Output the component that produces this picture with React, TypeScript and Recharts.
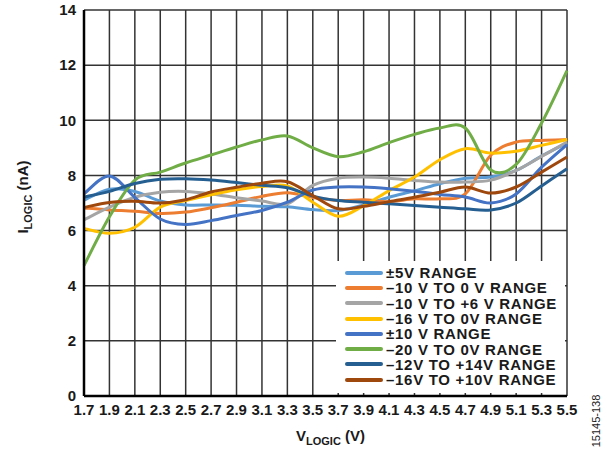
import { LineChart, Line, XAxis, YAxis, CartesianGrid, Legend } from 'recharts'

const FONT = '"Liberation Sans", Arial, sans-serif'

const vLogic = ['1.7', '1.9', '2.1', '2.3', '2.5', '2.7', '2.9', '3.1', '3.3', '3.5',
    '3.7', '3.9', '4.1', '4.3', '4.5', '4.7', '4.9', '5.1', '5.3', '5.5']
const yTicks = [0, 2, 4, 6, 8, 10, 12, 14]

// I_LOGIC (nA) per range, read at each V_LOGIC step
const range5V = [7.1, 7.5, 7.42, 7.07, 6.93, 6.93, 6.92, 6.88, 6.86, 6.76, 6.73, 6.93, 7.21, 7.44, 7.7, 7.9, 7.94, 8.18, 8.7, 9.18]
const rangeM10to0 = [6.82, 6.75, 6.7, 6.62, 6.67, 6.83, 7.03, 7.24, 7.37, 7.2, 7.09, 7.12, 7.05, 7.15, 7.15, 7.33, 8.73, 9.21, 9.27, 9.3]
const rangeM10toP6 = [6.39, 6.85, 7.21, 7.39, 7.42, 7.33, 7.19, 7.07, 6.97, 7.64, 7.9, 7.94, 7.9, 7.82, 7.76, 7.76, 7.83, 8.18, 8.69, 9.21]
const rangeM16to0 = [6.08, 5.9, 6.12, 6.85, 7.09, 7.3, 7.48, 7.6, 7.62, 7.03, 6.52, 6.9, 7.45, 7.94, 8.57, 8.97, 8.81, 8.88, 9.09, 9.3]
const range10V = [7.33, 7.98, 7.2, 6.42, 6.22, 6.36, 6.55, 6.73, 7.03, 7.47, 7.58, 7.58, 7.52, 7.43, 7.31, 7.22, 7.0, 7.33, 8.3, 9.12]
const rangeM20to0 = [4.73, 6.5, 7.83, 8.12, 8.45, 8.74, 9.03, 9.29, 9.43, 9.0, 8.68, 8.86, 9.19, 9.49, 9.72, 9.72, 8.2, 8.4, 9.9, 11.8]
const rangeM12toP14 = [7.22, 7.42, 7.71, 7.86, 7.88, 7.83, 7.74, 7.64, 7.55, 7.25, 7.09, 7.03, 6.97, 6.91, 6.85, 6.79, 6.75, 7.0, 7.62, 8.24]
const rangeM16toP10 = [6.84, 7.02, 7.06, 7.0, 7.12, 7.4, 7.57, 7.72, 7.77, 7.27, 6.79, 6.88, 7.05, 7.21, 7.39, 7.58, 7.36, 7.58, 8.12, 8.67]

const seriesList = [
    { key: 'r5', name: '±5V RANGE', color: '#5B9BD5', values: range5V },
    { key: 'm10to0', name: '–10 V TO 0 V RANGE', color: '#ED7D31', values: rangeM10to0 },
    { key: 'm10p6', name: '–10 V TO +6 V RANGE', color: '#A5A5A5', values: rangeM10toP6 },
    { key: 'm16to0', name: '–16 V TO 0V RANGE', color: '#FFC000', values: rangeM16to0 },
    { key: 'r10', name: '±10 V RANGE', color: '#4472C4', values: range10V },
    { key: 'm20to0', name: '–20 V TO 0V RANGE', color: '#70AD47', values: rangeM20to0 },
    { key: 'm12p14', name: '–12V TO +14V RANGE', color: '#255E91', values: rangeM12toP14 },
    { key: 'm16p10', name: '–16V TO +10V RANGE', color: '#9E480E', values: rangeM16toP10 },
]

const chartData = vLogic.map((v, i) => {
    const row: Record<string, string | number> = { v }
    seriesList.forEach((s) => { row[s.key] = s.values[i] })
    return row
})

// Excel-style smoothed line (Catmull-Rom through every point)
const excelSmooth = (context: any) => {
    let pts: number[][] = []
    return {
        areaStart() {},
        areaEnd() {},
        lineStart() { pts = [] },
        point(x: number, y: number) { pts.push([+x, +y]) },
        lineEnd() {
            const n = pts.length
            if (!n) return
            context.moveTo(pts[0][0], pts[0][1])
            for (let i = 0; i < n - 1; i++) {
                const p0 = pts[Math.max(i - 1, 0)]
                const p1 = pts[i]
                const p2 = pts[i + 1]
                const p3 = pts[Math.min(i + 2, n - 1)]
                context.bezierCurveTo(
                    p1[0] + (p2[0] - p0[0]) / 6, p1[1] + (p2[1] - p0[1]) / 6,
                    p2[0] - (p3[0] - p1[0]) / 6, p2[1] - (p3[1] - p1[1]) / 6,
                    p2[0], p2[1],
                )
            }
        },
    }
}

const tickStyle = { fontFamily: FONT, fontWeight: 700, fontSize: 15, fill: '#1a1a1a' }

const YTitle = ({ viewBox }: any) => {
    const cy = viewBox.y + viewBox.height / 2 - 6
    return (
        <text transform={`translate(28,${cy}) rotate(-90)`} textAnchor="middle"
            fontFamily={FONT} fontWeight={700} fontSize={15} fill="#1a1a1a">
            I<tspan fontSize={11} dy={4}>LOGIC</tspan><tspan dy={-4}> (nA)</tspan>
        </text>
    )
}

const XTitle = ({ viewBox }: any) => {
    const cx = viewBox.x + viewBox.width / 2 + 5
    return (
        <g>
            <text x={cx} y={441} textAnchor="middle" fontFamily={FONT} fontWeight={700} fontSize={15} fill="#1a1a1a">
                V<tspan fontSize={11} dy={4}>LOGIC</tspan><tspan dy={-4}> (V)</tspan>
            </text>
            <text transform="translate(600,421) rotate(-90)" textAnchor="middle"
                fontFamily={FONT} fontSize={11} fill="#1a1a1a">15145-138</text>
        </g>
    )
}

// legend keeps the series order (Recharts would sort the payload by name)
const renderLegend = () => (
    <div style={{ background: '#fff', width: '100%', height: '100%', paddingTop: 4, boxSizing: 'border-box' }}>
        {seriesList.map((s) => (
            <div key={s.key} style={{ display: 'flex', alignItems: 'center', height: 15.3 }}>
                <span style={{ width: 38, height: 4, borderRadius: 2, background: s.color, marginLeft: 9, marginRight: 3 }} />
                <span style={{ fontFamily: FONT, fontWeight: 700, fontSize: 15, lineHeight: '15px', letterSpacing: 0.7, color: '#1a1a1a', whiteSpace: 'nowrap' }}>
                    {s.name}
                </span>
            </div>
        ))}
    </div>
)

export default function App() {
    return (
        <div style={{ width: 607, height: 450, overflow: 'hidden' }}>
            <style>{'body{margin:0}'}</style>
            <LineChart width={607} height={450} data={chartData} margin={{ top: 10, right: 40, bottom: 0, left: 0 }}>
                <CartesianGrid stroke="#333" strokeWidth={1.5} />
                <XAxis dataKey="v" interval={0} height={54} tickLine={false}
                    axisLine={{ stroke: '#000', strokeWidth: 2.5 }} tick={tickStyle}
                    label={{ content: XTitle }} />
                <YAxis type="number" domain={[0, 14]} ticks={yTicks} width={84} tickLine={false}
                    axisLine={{ stroke: '#000', strokeWidth: 2.5 }} tick={tickStyle}
                    label={{ content: YTitle }} />
                <Legend layout="vertical" align="center" verticalAlign="middle" content={renderLegend}
                    wrapperStyle={{ left: 336, top: 261, width: 229, height: 132 }} />
                {seriesList.map((s) => (
                    <Line key={s.key} dataKey={s.key} name={s.name} stroke={s.color} strokeWidth={3}
                        type={excelSmooth as any} dot={false} isAnimationActive={false} />
                ))}
            </LineChart>
        </div>
    )
}
